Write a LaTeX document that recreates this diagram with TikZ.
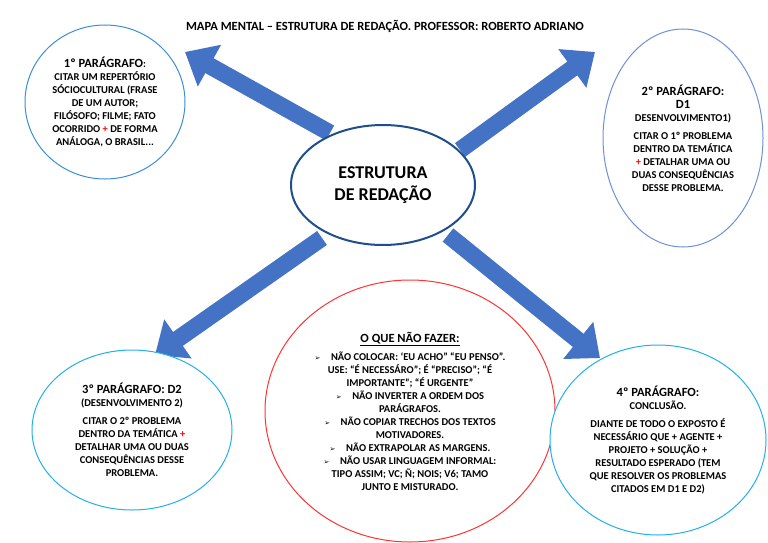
\documentclass[tikz,border=0pt]{standalone}
\usepackage{fontspec}
\setmainfont{Carlito}[BoldFont={Carlito Bold}]
\newfontfamily\symfont{DejaVu Sans}
\usetikzlibrary{arrows.meta,positioning,shapes.geometric}
\definecolor{arrowblue}{HTML}{4472C4}
\definecolor{ringblue}{HTML}{3C8FD6}
\definecolor{ringcyan}{HTML}{22B0EC}
\definecolor{ringlilac}{HTML}{7090D8}
\definecolor{ringdark}{HTML}{1F4E8C}
\tikzset{
    bubble/.style={draw, ellipse, line width=1pt, font=\fontsize{10.5}{13}\selectfont\bfseries, align=center},
    bigarrow/.style={draw=arrowblue!80!black, line width=17pt, arrowblue, -{Triangle[width=46pt,length=28pt]}},
}
\newcommand{\rplus}{\textcolor{red}{+}}
\newcommand{\bul}{{\symfont\fontsize{7}{8}\selectfont ➢}\quad}
\newcommand{\hd}[1]{{\fontsize{12.5}{15}\selectfont #1}}
\begin{document}
\begin{tikzpicture}[x=1pt,y=-1pt]
    \useasboundingbox (0,0) rectangle (768,543);
    % arrows first
    \coordinate (c1) at (330,133);
    \coordinate (e1) at (185,52);
    \coordinate (c2) at (460,150);
    \coordinate (e2) at (595,52);
    \coordinate (c3) at (322,238);
    \coordinate (e3) at (155,355);
    \coordinate (c4) at (448,235);
    \coordinate (e4) at (600,358);
    \draw[bigarrow] (c1) -- (e1);
    \draw[bigarrow] (c2) -- (e2);
    \draw[bigarrow] (c3) -- (e3);
    \draw[bigarrow] (c4) -- (e4);
    \node[font=\fontsize{12.5}{14}\selectfont\bfseries] (title) at (385,26) {MAPA MENTAL -- ESTRUTURA DE REDAÇÃO. PROFESSOR: ROBERTO ADRIANO};
    \node[bubble, draw=ringdark, line width=2pt, fill=white, minimum width=184pt, minimum height=120pt,
          font=\fontsize{18}{22}\selectfont\bfseries] (center) at (383,185) {ESTRUTURA\\DE REDAÇÃO};
    \node[bubble, draw=ringblue, fill=white, minimum width=160pt, minimum height=154pt, inner sep=0pt] (p1) at (105,102)
        {\hd{1º PARÁGRAFO}:\\CITAR UM REPERTÓRIO\\SÓCIOCULTURAL (FRASE\\DE UM AUTOR;\\FILÓSOFO; FILME; FATO\\OCORRIDO \rplus{} DE FORMA\\ANÁLOGA, O BRASIL...};
    \node[bubble, draw=ringlilac, fill=white, minimum width=160pt, minimum height=218pt, inner sep=0pt] (p2) at (683,138)
        {\hd{2º PARÁGRAFO:}\\\hd{D1}\\DESENVOLVIMENTO1)\\[5pt]CITAR O 1º PROBLEMA\\DENTRO DA TEMÁTICA\\\rplus{} DETALHAR UMA OU\\DUAS CONSEQUÊNCIAS\\DESSE PROBLEMA.};
    \node[bubble, draw=ringcyan, fill=white, minimum width=200pt, minimum height=160pt, inner sep=0pt] (p3) at (132,430)
        {\hd{3º PARÁGRAFO: D2}\\(DESENVOLVIMENTO 2)\\[5pt]CITAR O 2º PROBLEMA\\DENTRO DA TEMÁTICA \rplus\\DETALHAR UMA OU DUAS\\CONSEQUÊNCIAS DESSE\\PROBLEMA.};
    \node[bubble, draw=red!80, fill=white, minimum width=290pt, minimum height=262pt, inner sep=0pt] (dont) at (410,411)
        {\underline{\hd{O QUE NÃO FAZER:}}\\[5pt]
         \bul NÃO COLOCAR: ‘EU ACHO” “EU PENSO”.\\USE: “É NECESSÁRO”; É “PRECISO”; “É\\IMPORTANTE”; “É URGENTE”\\
         \bul NÃO INVERTER A ORDEM DOS\\PARÁGRAFOS.\\
         \bul NÃO COPIAR TRECHOS DOS TEXTOS\\MOTIVADORES.\\
         \bul NÃO EXTRAPOLAR AS MARGENS.\\
         \bul NÃO USAR LINGUAGEM INFORMAL:\\TIPO ASSIM; VC; Ñ; NOIS; V6; TAMO\\JUNTO E MISTURADO.};
    \node[bubble, draw=ringcyan, fill=white, minimum width=216pt, minimum height=190pt, inner sep=0pt] (p4) at (658,440)
        {\hd{4º PARÁGRAFO:}\\CONCLUSÃO.\\[5pt]DIANTE DE TODO O EXPOSTO É\\NECESSÁRIO QUE + AGENTE +\\PROJETO + SOLUÇÃO +\\RESULTADO ESPERADO (TEM\\QUE RESOLVER OS PROBLEMAS\\CITADOS EM D1 E D2)};
\end{tikzpicture}
\end{document}
